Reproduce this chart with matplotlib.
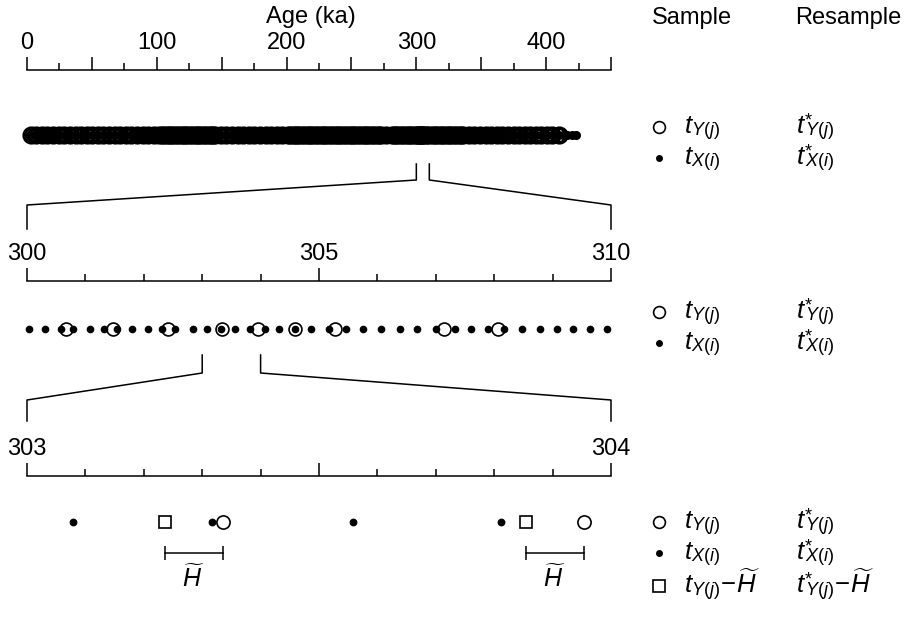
import matplotlib
matplotlib.use('Agg')
import matplotlib.pyplot as plt
import matplotlib._mathtext as mtext
from matplotlib.ticker import FixedLocator

plt.rcParams['font.family'] = 'Liberation Sans'
plt.rcParams['mathtext.fontset'] = 'custom'
plt.rcParams['mathtext.rm'] = 'Liberation Sans'
plt.rcParams['mathtext.it'] = 'Liberation Sans:italic'
plt.rcParams['mathtext.bf'] = 'Liberation Sans:bold'
# flatter sub/superscripts, closer to the original typesetting
mtext.FontConstantsBase.sub1 = 0.2
mtext.FontConstantsBase.sup1 = 0.5

# ages in ka; Y = open circles, X = dots (values outside the 300-310 ka zoom)
y_ages = [2.8, 7.1, 11.5, 15.6, 20.1, 24.3, 28.8, 33.0, 37.4, 41.7, 46.1, 50.2,
          54.6, 58.9, 63.3, 67.5, 71.8, 76.2, 80.4, 84.9, 89.1, 93.5, 97.6, 101.8,
          103.9, 105.6, 107.5, 109.2, 111.1, 112.8, 114.7, 116.4, 118.3, 120.0,
          121.9, 123.6, 125.5, 127.2, 129.1, 130.8, 132.7, 134.4, 136.3, 138.0,
          139.9, 141.6, 143.5, 145.2, 149.4, 153.7, 158.1, 162.3, 166.6, 171.0,
          175.2, 179.5, 183.9, 188.1, 192.4, 196.8, 200.9, 202.8, 204.6, 206.3,
          208.2, 209.9, 211.8, 213.5, 215.4, 217.1, 219.0, 220.7, 222.6, 224.3,
          226.2, 227.9, 229.8, 231.5, 233.4, 235.1, 237.0, 238.7, 240.6, 242.3,
          244.2, 245.9, 247.8, 249.5, 251.4, 253.1, 255.0, 256.7, 258.6, 260.3,
          262.2, 263.9, 265.8, 267.5, 269.4, 271.1, 273.0, 276.6, 280.9, 282.7,
          284.5, 286.2, 288.1, 289.8, 291.7, 293.4, 295.3, 297.0, 298.9, 310.9,
          312.6, 314.5, 316.2, 318.1, 319.8, 321.7, 323.4, 325.3, 327.0, 328.9,
          330.6, 332.5, 334.2, 336.1, 340.4, 344.7, 349.1, 353.3, 357.6, 362.0,
          366.2, 370.5, 374.9, 379.1, 383.4, 387.8, 392.0, 396.3, 400.7, 404.9,
          409.6]
x_ages = [1.2, 5.4, 9.3, 13.6, 17.5, 21.8, 25.7, 29.9, 34.0, 38.2, 42.1, 46.4,
          50.3, 54.6, 58.5, 62.7, 66.8, 70.9, 74.9, 79.1, 83.2, 87.3, 91.4, 95.5,
          99.6, 103.7, 107.8, 111.9, 116.0, 120.1, 124.2, 128.3, 132.4, 136.5,
          140.6, 144.7, 148.8, 152.9, 157.0, 161.1, 165.2, 169.3, 173.4, 177.5,
          181.6, 185.7, 189.8, 193.9, 198.0, 202.1, 206.3, 210.2, 214.4, 218.3,
          222.5, 226.6, 230.6, 234.8, 238.7, 242.9, 247.0, 251.1, 255.2, 259.3,
          263.4, 267.5, 271.6, 275.7, 279.8, 283.9, 288.0, 292.1, 296.2, 299.4,
          310.4, 314.5, 318.6, 322.7, 326.8, 330.9, 335.0, 339.1, 343.2, 347.3,
          351.4, 355.5, 359.6, 363.7, 367.8, 371.9, 376.0, 380.1, 384.2, 388.3,
          392.4, 396.5, 400.6, 404.7, 408.8, 412.9, 416.4, 419.8, 423.0]

# the 300-310 ka window
y_zoom = [300.66, 301.47, 302.42, 303.335, 303.953, 304.59, 305.28, 307.14, 308.06]
x_zoom = [300.03, 300.30, 300.58, 300.78, 301.08, 301.32, 301.54, 301.80,
          302.08, 302.32, 302.54, 302.85, 303.078, 303.316, 303.559, 303.811,
          304.08, 304.32, 304.59, 304.87, 305.17, 305.47, 305.76, 306.07,
          306.39, 306.68, 307.01, 307.33, 307.61, 307.89, 308.16, 308.48,
          308.78, 309.07, 309.35, 309.64, 309.93]

h_tilde = 0.099  # shift (ka)

W, H = 914, 624
fig = plt.figure(figsize=(W / 100, H / 100), dpi=100)

# overlay in pixel units (y down) for connectors and legend
ov = fig.add_axes([0, 0, 1, 1])
ov.set_xlim(0, W)
ov.set_ylim(H, 0)
ov.axis('off')


def make_panel(line_px, lo, hi, major, minor, labels):
    h = 130
    ax = fig.add_axes([27 / W, 1 - (line_px + h) / H, 584 / W, h / H])
    ax.set_xlim(lo, hi)
    ax.set_ylim(h, 0)  # pixels below the scale line
    ax.patch.set_visible(False)
    for s in ['left', 'right', 'bottom']:
        ax.spines[s].set_visible(False)
    ax.spines['top'].set_linewidth(1.1)
    ax.yaxis.set_visible(False)
    ax.xaxis.tick_top()
    ax.xaxis.set_major_locator(FixedLocator(major))
    ax.xaxis.set_minor_locator(FixedLocator(minor))
    ax.set_xticklabels(labels)
    ax.tick_params(axis='x', which='major', direction='out', length=9.5,
                   width=1.1, pad=2, labelsize=17)
    ax.tick_params(axis='x', which='minor', direction='out', length=5, width=1.1)
    return ax


ROW = 48
circ = dict(ls='none', marker='o', mfc='none', mec='black', clip_on=False)
dot = dict(ls='none', marker='o', mfc='black', mec='black', clip_on=False)

# panel 1: whole record
ax1 = make_panel(70, 0, 450, list(range(0, 451, 50)), list(range(25, 450, 50)),
                 ['0', '', '100', '', '200', '', '300', '', '400', ''])
all_x = x_ages + x_zoom
all_y = y_ages + y_zoom
ax1.plot(all_x, [65] * len(all_x), ms=5.5, **dot)
ax1.plot(all_y, [65] * len(all_y), ms=10.4, mew=2.7, **circ)
ax1.text(219, -53, 'Age (ka)', ha='center', va='center', fontsize=17)

# panel 2: 300-310 ka
ax2 = make_panel(281, 300, 310, [300, 305, 310],
                 [301, 302, 303, 304, 306, 307, 308, 309], ['300', '305', '310'])
ax2.plot(x_zoom, [ROW] * len(x_zoom), ms=4.5, **dot)
ax2.plot(y_zoom, [ROW] * len(y_zoom), ms=9.3, mew=1.2, **circ)

# panel 3: 303-304 ka
ax3 = make_panel(476, 303, 304, [303, 303.5, 304],
                 [303.1, 303.2, 303.3, 303.4, 303.6, 303.7, 303.8, 303.9],
                 ['303', '', '304'])
x_sub = [v for v in x_zoom if 303 <= v <= 304]
y_sub = [v for v in y_zoom if 303 <= v <= 304]
s_sub = [v - h_tilde for v in y_sub]
ax3.plot(x_sub, [46] * len(x_sub), ms=4.6, **dot)
ax3.plot(y_sub, [46] * len(y_sub), ms=9.5, mew=1.2, **circ)
ax3.plot(s_sub, [46] * len(s_sub), ls='none', marker='s', ms=9.3, mfc='none',
         mec='black', mew=1.2, clip_on=False)
for s, c in zip(s_sub, y_sub):
    ax3.plot([s, c], [77, 77], color='black', lw=1.1,
             marker='|', ms=9.5, mew=1.1, clip_on=False)
    ax3.text((s + c) / 2, 102, r'$\widetilde{H}$', ha='center',
             va='center', fontsize=18)


# zoom connectors
def xpx(ax, v):
    return ax.transData.transform((v, 0))[0]


for a, b, lo, hi, y0, y1, y2, y3 in [(ax1, ax2, 300, 310, 164, 180, 205, 229),
                                      (ax2, ax3, 303, 304, 355, 373, 400, 421)]:
    for v in (lo, hi):
        xa, xb = xpx(a, v), xpx(b, v)
        ov.plot([xa, xa, xb, xb], [y0, y1, y2, y3], color='black', lw=1.1)

# legend
ov.text(652, 18, 'Sample', ha='left', va='center', fontsize=17)
ov.text(795, 18, 'Resample', ha='left', va='center', fontsize=17)
yj = r'{Y(j)}'
xi = r'{X(i)}'
rows = [(127, 'o', yj, ''), (158, '.', xi, ''),
        (312, 'o', yj, ''), (343, '.', xi, ''),
        (522, 'o', yj, ''), (553, '.', xi, ''),
        (586, 's', yj, r'\!-\!\widetilde{H}')]
for y, m, sub, tail in rows:
    if m == 'o':
        ov.plot([659], [y], marker='o', ms=8.5, mfc='none', mec='black', mew=1.2)
    elif m == '.':
        ov.plot([659], [y], marker='o', ms=4.0, mfc='black', mec='black')
    else:
        ov.plot([659], [y], marker='s', ms=9, mfc='none', mec='black', mew=1.2)
    ov.text(684, y + 7, '$t_' + sub + tail + '$', ha='left', va='baseline',
            fontsize=18.5)
    # star set as a superscript, subscript tucked back underneath it
    ov.text(796, y + 7, r'$t^{*}\!\!{}_' + sub + tail + '$', ha='left',
            va='baseline', fontsize=18.5)

fig.savefig('out.png', dpi=100)
